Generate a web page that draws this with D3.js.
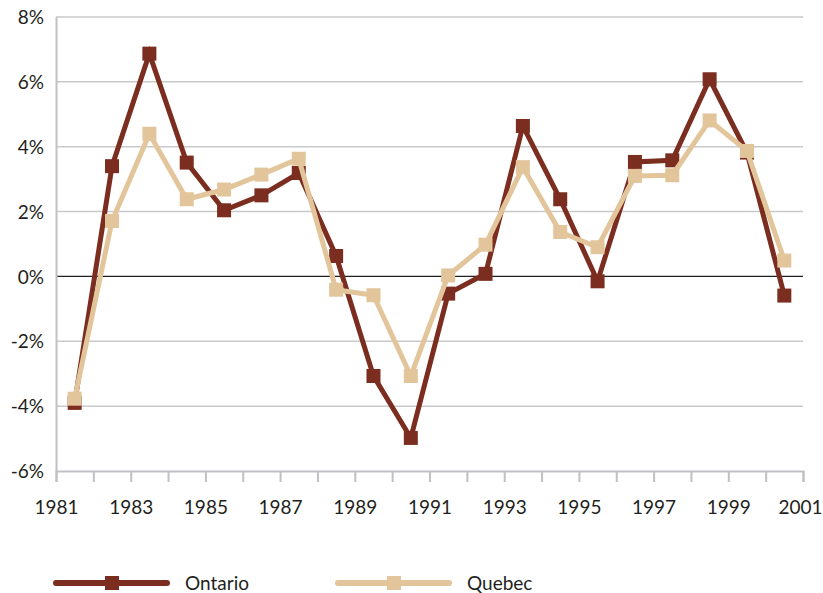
<!DOCTYPE html>
<html>
<head>
<meta charset="utf-8">
<script src="https://cdn.jsdelivr.net/npm/d3@7"></script>
<style>
  body { margin: 0; background: #fff; }
  text { font-family: "Lato", "Open Sans", sans-serif; fill: #231f20; }
</style>
</head>
<body>
<script>
var YEARS = [1981, 1982, 1983, 1984, 1985, 1986, 1987, 1988, 1989, 1990,
             1991, 1992, 1993, 1994, 1995, 1996, 1997, 1998, 1999, 2000];
var ONTARIO = [-3.9, 3.4, 6.87, 3.51, 2.04, 2.5, 3.19, 0.63, -3.07, -4.98,
               -0.53, 0.08, 4.64, 2.38, -0.15, 3.53, 3.58, 6.08, 3.82, -0.59];
var QUEBEC = [-3.77, 1.71, 4.4, 2.38, 2.68, 3.14, 3.63, -0.41, -0.58, -3.07,
              0.03, 0.98, 3.37, 1.37, 0.9, 3.1, 3.12, 4.81, 3.87, 0.49];
var Y_TICKS = [-6, -4, -2, 0, 2, 4, 6, 8];
var X_TICKS = [1981, 1983, 1985, 1987, 1989, 1991, 1993, 1995, 1997, 1999, 2001];
var SERIES = [
  { name: "Ontario", values: ONTARIO, color: "#7b2d1f" },
  { name: "Quebec", values: QUEBEC, color: "#e2c59b" }
];

var margin = { top: 17, right: 20, left: 56, bottom: 122 };
var W = 823, H = 593;
var width = W - margin.left - margin.right;
var height = H - margin.top - margin.bottom;

var svg = d3.select("body").append("svg").attr("width", W).attr("height", H);
var g = svg.append("g").attr("transform", "translate(" + margin.left + "," + margin.top + ")");

var x = d3.scaleLinear().domain([1981, 2001]).range([0, width]);
var y = d3.scaleLinear().domain([-6, 8]).range([height, 0]);

// grid
g.selectAll("line.grid").data(Y_TICKS.filter(function (d) { return d !== 0 && d !== -6; }))
  .enter().append("line").attr("class", "grid")
  .attr("x1", 0).attr("x2", width)
  .attr("y1", function (d) { return y(d); }).attr("y2", function (d) { return y(d); })
  .attr("stroke", "#c9c9cc").attr("stroke-width", 1.5);

// zero line
g.append("line").attr("x1", 0).attr("x2", width).attr("y1", y(0)).attr("y2", y(0))
  .attr("stroke", "#231f20").attr("stroke-width", 1.2);

// y axis
var yAxis = g.append("g").call(d3.axisLeft(y).tickValues(Y_TICKS).tickSize(0).tickPadding(12)
  .tickFormat(function (d) { return d + "%"; }));
yAxis.select(".domain").attr("stroke", "#c0c1c5").attr("stroke-width", 2);
yAxis.selectAll("text").style("font-size", "19px").attr("dy", "0.35em");

// x axis
var xAxis = g.append("g").attr("transform", "translate(0," + height + ")")
  .call(d3.axisBottom(x).tickValues(d3.range(1981, 2002)).tickSize(11).tickPadding(19)
    .tickFormat(function (d) { return X_TICKS.indexOf(d) >= 0 ? d : ""; }));
xAxis.select(".domain").attr("stroke", "#c0c1c5").attr("stroke-width", 2);
xAxis.selectAll(".tick line").attr("stroke", "#c0c1c5").attr("stroke-width", 2);
xAxis.selectAll("text").style("font-size", "19px")
  .attr("dx", function (d) { return d === 2001 ? "-3px" : 0; });

// series
var line = d3.line()
  .x(function (d, i) { return x(YEARS[i] + 0.5); })
  .y(function (d) { return y(d); });

SERIES.forEach(function (s) {
  g.append("path").datum(s.values).attr("d", line)
    .attr("fill", "none").attr("stroke", s.color).attr("stroke-width", 5)
    .attr("stroke-linejoin", "miter");
  g.selectAll(null).data(s.values).enter().append("rect")
    .attr("x", function (d, i) { return x(YEARS[i] + 0.5) - 7; })
    .attr("y", function (d) { return y(d) - 7; })
    .attr("width", 14).attr("height", 14)
    .attr("fill", s.color);
});

// legend
var legend = svg.append("g").attr("transform", "translate(56,583)");
var item = legend.selectAll("g").data(SERIES).enter().append("g")
  .attr("transform", function (d, i) { return "translate(" + (i * 282) + ",0)"; });
item.append("line").attr("x1", 0).attr("x2", 111).attr("y1", 0).attr("y2", 0)
  .attr("stroke", function (d) { return d.color; }).attr("stroke-width", 6)
  .attr("stroke-linecap", "round");
item.append("rect").attr("x", 49).attr("y", -7).attr("width", 14).attr("height", 14)
  .attr("fill", function (d) { return d.color; });
item.append("text").attr("x", 129).attr("y", 0).attr("dy", "0.35em")
  .style("font-size", "19px").text(function (d) { return d.name; });
</script>
</body>
</html>
